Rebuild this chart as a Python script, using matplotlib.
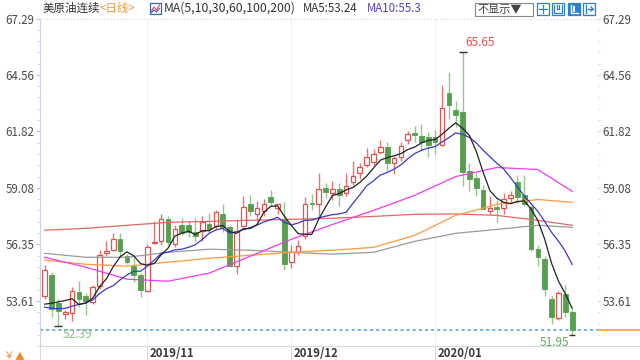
import matplotlib
matplotlib.use("Agg")
import matplotlib.pyplot as plt
import matplotlib.transforms as mtransforms
from matplotlib.lines import Line2D
from matplotlib.patches import Rectangle
import numpy as np

plt.rcParams['font.family'] = ['Noto Sans CJK SC', 'DejaVu Sans']

# ---------------- data ----------------
opens = [53.85, 54.85, 53.50, 52.97, 53.01, 54.03, 53.84, 53.55, 54.32, 55.91,
         56.06, 56.59, 55.77, 55.29, 54.85, 54.08, 56.40, 56.50, 57.56, 56.35,
         57.30, 57.30, 56.93, 56.98, 57.31, 57.22, 57.80, 57.17, 55.29, 57.22,
         58.28, 57.80, 57.94, 58.62, 58.13, 57.56, 55.48, 55.96, 56.73, 58.37,
         58.30, 59.10, 58.85, 59.05, 58.85, 59.35, 59.80, 60.20, 60.35, 60.80,
         61.05, 60.30, 60.60, 61.40, 61.75, 61.60, 61.55, 61.55, 61.14, 63.69,
         62.87, 62.77, 59.92, 59.58, 59.00, 57.98, 58.18, 58.13, 58.57, 59.35,
         58.76, 58.18, 56.11, 55.62, 53.69, 52.77, 53.93, 53.06]
highs = [55.35, 55.00, 53.69, 53.15, 54.30, 54.56, 53.98, 54.40, 56.05, 56.50,
         56.88, 56.92, 55.87, 55.67, 54.95, 56.35, 57.46, 57.80, 57.70, 57.30,
         57.60, 57.50, 57.60, 57.70, 57.85, 58.00, 58.30, 57.25, 57.56, 58.67,
         58.75, 58.45, 58.55, 59.00, 58.37, 58.40, 56.30, 56.55, 58.65, 58.80,
         59.80, 59.30, 59.40, 59.30, 59.80, 60.40, 60.30, 61.00, 60.95, 61.40,
         61.30, 60.65, 61.30, 61.85, 62.10, 62.20, 61.80, 61.90, 64.08, 64.70,
         63.30, 65.65, 60.30, 59.80, 59.20, 58.67, 58.50, 58.85, 58.95, 59.73,
         59.70, 58.25, 56.30, 55.80, 53.85, 54.10, 54.40, 53.20]
lows = [53.70, 52.82, 52.39, 52.73, 52.63, 53.30, 52.90, 53.45, 54.20, 55.77,
        56.00, 55.77, 55.38, 54.51, 53.79, 54.03, 56.35, 56.30, 56.30, 56.20,
        56.80, 56.70, 56.45, 56.50, 56.90, 57.10, 56.95, 55.24, 54.90, 57.17,
        57.70, 57.50, 57.70, 58.20, 57.80, 55.10, 55.20, 55.85, 56.60, 58.00,
        57.72, 58.60, 58.50, 58.20, 58.70, 59.20, 59.50, 60.10, 60.20, 60.70,
        59.90, 59.75, 60.40, 61.20, 61.30, 60.90, 60.60, 60.70, 61.10, 62.40,
        62.05, 59.17, 58.95, 58.70, 58.05, 57.80, 57.45, 57.80, 58.40, 58.35,
        58.20, 56.00, 55.30, 53.85, 52.50, 52.70, 52.82, 51.95]
closes = [55.10, 53.20, 53.11, 53.06, 54.08, 53.69, 53.60, 54.27, 55.82, 56.01,
          56.59, 56.01, 55.48, 54.85, 54.13, 56.20, 56.45, 57.56, 56.45, 57.07,
          56.90, 56.93, 56.74, 57.41, 57.07, 57.89, 57.17, 55.29, 56.98, 58.18,
          57.94, 58.13, 58.28, 58.42, 58.28, 55.39, 55.96, 56.25, 58.28, 58.28,
          59.05, 58.90, 59.05, 58.75, 59.15, 59.68, 60.10, 60.60, 60.70, 61.05,
          60.30, 60.55, 61.10, 61.70, 61.65, 61.30, 61.18, 61.30, 62.96, 63.11,
          62.63, 59.87, 59.53, 59.10, 58.08, 58.13, 58.08, 58.52, 58.76, 58.62,
          58.28, 56.11, 55.72, 54.18, 52.82, 53.98, 53.06, 52.20]
# closes before the first visible candle (needed for MA5 / MA10)
prior_closes = [53.80, 53.30, 52.90, 53.00, 52.80, 53.00, 52.75, 52.75, 53.65]

# long moving averages at every 6th candle
ma_idx = [0, 6, 12, 18, 24, 30, 36, 42, 48, 54, 60, 66, 72, 77]
ma30 = [55.72, 55.24, 54.66, 54.56, 54.95, 55.77, 56.59, 57.31, 57.99, 58.72,
        59.63, 60.07, 59.97, 58.91]
ma60 = [55.58, 55.38, 55.29, 55.48, 55.67, 55.82, 55.96, 56.06, 56.20, 56.78,
        57.75, 58.28, 58.52, 58.38]
ma100 = [55.91, 55.72, 55.72, 55.96, 56.11, 56.06, 55.96, 55.87, 55.96, 56.49,
         56.88, 57.07, 57.27, 57.17]
ma200 = [57.03, 57.12, 57.27, 57.41, 57.46, 57.51, 57.56, 57.61, 57.70, 57.80,
         57.82, 57.75, 57.51, 57.27]

y_ticks = [53.61, 56.35, 59.08, 61.82, 64.56, 67.29]
month_idx = [15, 36, 57]
month_labels = ['2019/11', '2019/12', '2020/01']

title_text = '美原油连续'
period_text = '<日线>'
ma_spec_text = 'MA(5,10,30,60,100,200)'
ma5_text = 'MA5:53.24'
ma10_text = 'MA10:55.3'
hide_text = '不显示▼'
high_label = '65.65'
low_label = '52.39'
last_low_label = '51.95'

# ---------------- layout ----------------
W, H = 640, 360
fig = plt.figure(figsize=(6.4, 3.6), dpi=100)
fig.patch.set_facecolor('white')
X0, X1 = 40, 598
Y_TOP, Y_BOT = 18.5, 346
ax = fig.add_axes([X0 / W, 1 - Y_BOT / H, (X1 - X0) / W, (Y_BOT - Y_TOP) / H])
ax.set_facecolor('white')
ax.set_ylim(51.47, 67.29)
ax.set_xlim(-0.686, 80.77)

RED = '#e2534f'
RED_WICK = '#e67470'
GREEN = '#55a04f'
GREEN_WICK = '#93c78c'

n = len(closes)
xs = np.arange(n)
bw = 0.68
for i in range(n):
    o, h, l, c = opens[i], highs[i], lows[i], closes[i]
    top, bot = max(o, c), min(o, c)
    body = max(top - bot, 0.05)
    if c >= o:
        ax.vlines(i, top, h, color=RED_WICK, lw=1.0, zorder=2)
        ax.vlines(i, l, bot, color=RED_WICK, lw=1.0, zorder=2)
        ax.add_patch(Rectangle((i - bw / 2, bot), bw, body, facecolor='white',
                               edgecolor=RED, lw=0.9, zorder=3))
    else:
        ax.vlines(i, l, h, color=GREEN_WICK, lw=1.0, zorder=2)
        ax.add_patch(Rectangle((i - bw / 2, bot), bw, body, facecolor=GREEN,
                               edgecolor=GREEN, lw=0.6, zorder=3))

allc = prior_closes + closes
off = len(prior_closes)
ma5 = [np.mean(allc[k - 4:k + 1]) for k in range(off, off + n)]
ma10 = [np.mean(allc[k - 9:k + 1]) for k in range(off, off + n)]

ax.plot(ma_idx, ma200, color='#e06a66', lw=0.9, zorder=4)
ax.plot(ma_idx, ma100, color='#9a9a9a', lw=0.9, zorder=4)
ax.plot(ma_idx, ma60, color='#ff9a3c', lw=0.9, zorder=4)
ax.plot(ma_idx, ma30, color='#f03cf0', lw=0.9, zorder=4)
ax.plot(xs, ma10, color='#3a3ac8', lw=0.9, zorder=5)
ax.plot(xs, ma5, color='#222222', lw=0.9, zorder=6)

# current price line
last = closes[-1]
ax.axhline(last, color='#4d9de6', lw=1.1, ls=(0, (2, 2)), zorder=1)
blend = mtransforms.blended_transform_factory(ax.transAxes, ax.transData)
ax.plot([1.0, 1.08], [last, last], color='#f5a547', lw=1.3,
        transform=blend, clip_on=False, zorder=6)

# top dotted grid line
ax.axhline(67.29, color='#c9d2de', lw=0.8, ls=(0, (1, 2)), zorder=1)

# month grid lines and labels
bx = mtransforms.blended_transform_factory(ax.transData, ax.transAxes)
for idx, lab in zip(month_idx, month_labels):
    ax.axvline(idx, color='#eef1f6', lw=0.8, zorder=0)
    ax.plot([idx, idx], [0, -14 / (Y_BOT - Y_TOP)], color='#d3dae3', lw=0.8,
            transform=bx, clip_on=False)
    ax.text(idx + 0.35, -7.5 / (Y_BOT - Y_TOP), lab, transform=bx, ha='left',
            va='center', fontsize=8.2, fontweight='bold', color='#3a3a3a')

# spines & ticks
for s in ['top', 'right']:
    ax.spines[s].set_visible(False)
ax.spines['left'].set_color('#c9d4e2')
ax.spines['bottom'].set_color('#d3dae3')
ax.spines['left'].set_linewidth(0.8)
ax.spines['bottom'].set_linewidth(0.8)
ax.set_xticks([])
ax.set_yticks(y_ticks)
ax.set_yticklabels([f'{v:.2f}' for v in y_ticks])
minor = []
for a, b in zip(y_ticks[:-1], y_ticks[1:]):
    minor += list(np.linspace(a, b, 6)[1:-1])
minor += list(np.linspace(53.61 - 2.737, 53.61, 6)[1:-1])
ax.set_yticks(minor, minor=True)
ax.tick_params(axis='y', which='major', length=3, width=0.8, color='#b8c4d4',
               labelsize=8.3, labelcolor='#4a4a4a', pad=1)
ax.tick_params(axis='y', which='minor', length=2, width=0.6, color='#ccd5e0')

ax2 = ax.twinx()
ax2.set_ylim(ax.get_ylim())
for s in ['top', 'left', 'bottom', 'right']:
    ax2.spines[s].set_visible(False)
ax2.set_yticks(y_ticks)
ax2.set_yticklabels([f'{v:.2f}' for v in y_ticks])
ax2.set_yticks(minor, minor=True)
ax2.tick_params(axis='y', which='major', length=1.5, width=0.8, color='#c0cad8',
                labelsize=8.3, labelcolor='#4a4a4a', pad=1.5)
ax2.tick_params(axis='y', which='minor', length=1.5, width=0.6, color='#d0d8e2')

# high / low markers
ih = int(np.argmax(highs))
il = int(np.argmin(lows[:20]))
ax.plot([ih], [highs[ih]], marker='_', ms=6, mew=1.0, color='#333333', zorder=7)
ax.annotate(high_label, xy=(ih, highs[ih]), xytext=(3, 3), textcoords='offset pixels',
            ha='left', va='bottom', fontsize=8.5, color='#e0544f')
ax.plot([il], [lows[il]], marker='_', ms=6, mew=1.0, color='#333333', zorder=7)
ax.annotate(low_label, xy=(il, lows[il]), xytext=(4, -2), textcoords='offset pixels',
            ha='left', va='top', fontsize=8.5, color='#8db883')
ax.plot([n - 1], [lows[-1]], marker='_', ms=5, mew=1.0, color='#333333', zorder=7,
        clip_on=False)
ax.annotate(last_low_label, xy=(n - 1, lows[-1]), xytext=(-3, -1),
            textcoords='offset pixels', ha='right', va='top', fontsize=8.5,
            color='#62a860', annotation_clip=False)

# extend left spine down into date strip, bottom line across
fig.add_artist(Line2D([X0 / W, X0 / W], [0, 1 - Y_BOT / H], color='#d3dae3', lw=0.8))
fig.add_artist(Line2D([X1 / W, 1], [1 - Y_BOT / H, 1 - Y_BOT / H], color='#d3dae3', lw=0.8))


def fx(x):
    return x / W


def fy(y):
    return 1 - y / H


# header texts
fig.text(fx(43), fy(8.5), title_text, fontsize=8.3, color='#333333', va='center', ha='left')
fig.text(fx(100), fy(8.5), period_text, fontsize=8.3, color='#f39a3a', va='center', ha='left')
# small indicator icon
fig.add_artist(Rectangle((fx(150), fy(14)), 11 / W, 11 / H, transform=fig.transFigure,
                         facecolor='white', edgecolor='#3b62b5', lw=0.9))
fig.add_artist(Line2D([fx(151.5), fx(154), fx(156.5), fx(159.5)],
                      [fy(11), fy(7), fy(10), fy(5)], color='#d94a4a', lw=0.8))
fig.add_artist(Line2D([fx(151.5), fx(154), fx(156.5), fx(159.5)],
                      [fy(12.5), fy(10), fy(12), fy(8.5)], color='#3b62b5', lw=0.8))
fig.text(fx(163.5), fy(8.5), ma_spec_text, fontsize=8.8, color='#333333', va='center', ha='left')
fig.text(fx(303), fy(8.5), ma5_text, fontsize=8.3, color='#333333', va='center', ha='left')
fig.text(fx(367), fy(8.5), ma10_text, fontsize=8.3, color='#5a3cc2', va='center', ha='left')

# "不显示" box
fig.add_artist(Rectangle((fx(475), fy(16)), 58 / W, 13 / H, transform=fig.transFigure,
                         facecolor='white', edgecolor='#8a8a8a', lw=0.8))
fig.text(fx(478), fy(9.5), hide_text, fontsize=8, color='#444444', va='center', ha='left')

# tool icons
BLUE = '#2f7fd0'
icon_x = [537, 552, 568, 583]
for k, ix in enumerate(icon_x):
    filled = (k == 2)
    fig.add_artist(Rectangle((fx(ix), fy(15)), 12 / W, 12 / H, transform=fig.transFigure,
                             facecolor=BLUE if filled else 'white', edgecolor=BLUE, lw=0.9))
    gc = 'white' if filled else BLUE
    cxp, cyp = ix + 6, 9
    if k == 0:
        fig.add_artist(Line2D([fx(cxp - 4), fx(cxp + 4)], [fy(cyp), fy(cyp)], color=gc, lw=0.9))
        fig.add_artist(Line2D([fx(cxp), fx(cxp)], [fy(cyp - 4), fy(cyp + 4)], color=gc, lw=0.9))
    elif k == 1:
        fig.add_artist(Line2D([fx(ix + 2), fx(ix + 2), fx(ix + 10), fx(ix + 10)],
                              [fy(5), fy(13), fy(13), fy(5)], color=gc, lw=0.9))
        fig.add_artist(Line2D([fx(ix + 5), fx(ix + 5), fx(ix + 7), fx(ix + 7)],
                              [fy(5), fy(9), fy(9), fy(5)], color=gc, lw=0.9))
    elif k == 2:
        fig.add_artist(Line2D([fx(ix + 3), fx(ix + 3), fx(ix + 10)],
                              [fy(5), fy(13), fy(13)], color=gc, lw=1.0))
        fig.add_artist(Line2D([fx(ix + 6), fx(ix + 6)], [fy(7), fy(11)], color=gc, lw=1.4))
    else:
        fig.add_artist(Line2D([fx(ix + 3), fx(ix + 3)], [fy(5), fy(13)], color=gc, lw=1.0))
        fig.add_artist(Line2D([fx(ix + 5), fx(ix + 10)], [fy(9), fy(9)], color=gc, lw=1.0))
        fig.add_artist(Line2D([fx(ix + 8), fx(ix + 10), fx(ix + 8)],
                              [fy(7), fy(9), fy(11)], color=gc, lw=1.0))

# bottom-left small icons
fig.text(fx(3), fy(356), '￥', fontsize=7.5, color='#f08a24', va='center', ha='left')
fig.text(fx(15), fy(356), '▲', fontsize=7, color='#f08a24', va='center', ha='left')

fig.savefig('out.png', dpi=100, facecolor='white')
